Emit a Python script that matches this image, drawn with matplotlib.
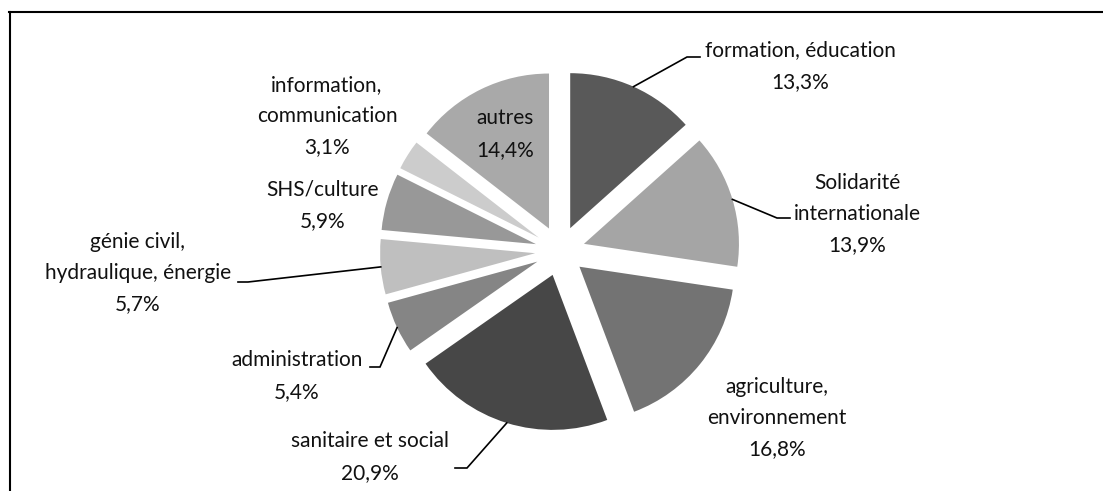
import numpy as np
import matplotlib
matplotlib.use("Agg")
import matplotlib.pyplot as plt
from matplotlib.lines import Line2D

plt.rcParams['font.family'] = ['Lato', 'DejaVu Sans']

# data
categories = ["formation, éducation", "Solidarité\ninternationale", "agriculture,\nenvironnement",
              "sanitaire et social", "administration", "génie civil,\nhydraulique, énergie",
              "SHS/culture", "information,\ncommunication", "autres"]
shares = [13.3, 13.9, 16.8, 20.9, 5.4, 5.7, 5.9, 3.1, 14.4]
colors = ["#595959", "#a5a5a5", "#737373", "#474747", "#858585",
          "#bfbfbf", "#989898", "#cccccc", "#a9a9a9"]

# layout (pixel coords, y measured from top)
W, H = 1103, 491
cx, cy, R, boom = 560, 251, 155, 25
label_pos = [(800, 66), (857, 214), (777, 418), (370, 457), (297, 376),
             (138, 273), (323, 205), (327, 116), (505, 134)]
# leader elbows: (elbow, end) or None
leaders = [((687, 57), (700, 57)), ((777, 218), (790, 218)), None,
           ((467, 468), (455, 468)), ((380, 367), (370, 367)),
           ((248, 282), (238, 282)), None, None, None]

fig = plt.figure(figsize=(W / 100, H / 100), dpi=100)
ax = fig.add_axes([0, 0, 1, 1])
wedges, _ = ax.pie(shares, colors=colors, startangle=90, counterclock=False,
                   explode=[boom] * len(shares), radius=R, center=(cx, H - cy),
                   wedgeprops=dict(linewidth=0))
ax.set_xlim(0, W)
ax.set_ylim(0, H)
ax.set_aspect('equal')
ax.axis('off')

for i, (lab, val) in enumerate(zip(categories, shares)):
    x, y = label_pos[i]
    txt = lab + "\n" + f"{val:.1f}%".replace(".", ",")
    ax.text(x, H - y, txt, ha='center', va='center', fontsize=15,
            linespacing=1.7, color='#111111')
    if leaders[i] is not None:
        w = wedges[i]
        th = np.deg2rad((w.theta1 + w.theta2) / 2)
        sx = w.center[0] + R * np.cos(th)
        sy = w.center[1] + R * np.sin(th)
        (ex, ey), (fx, fy) = leaders[i]
        ax.plot([sx, ex, fx], [sy, H - ey, H - fy], color='black', lw=1.2,
                solid_joinstyle='miter')

# chart frame (open at bottom/right, as cropped)
fig.add_artist(Line2D([9.5 / W, 9.5 / W], [0, 1 - 12 / H], color='black', lw=1.5,
                      transform=fig.transFigure))
fig.add_artist(Line2D([9 / W, 1], [1 - 12 / H, 1 - 12 / H], color='black', lw=1.5,
                      transform=fig.transFigure))

fig.savefig("out.png", dpi=100, facecolor='white')
